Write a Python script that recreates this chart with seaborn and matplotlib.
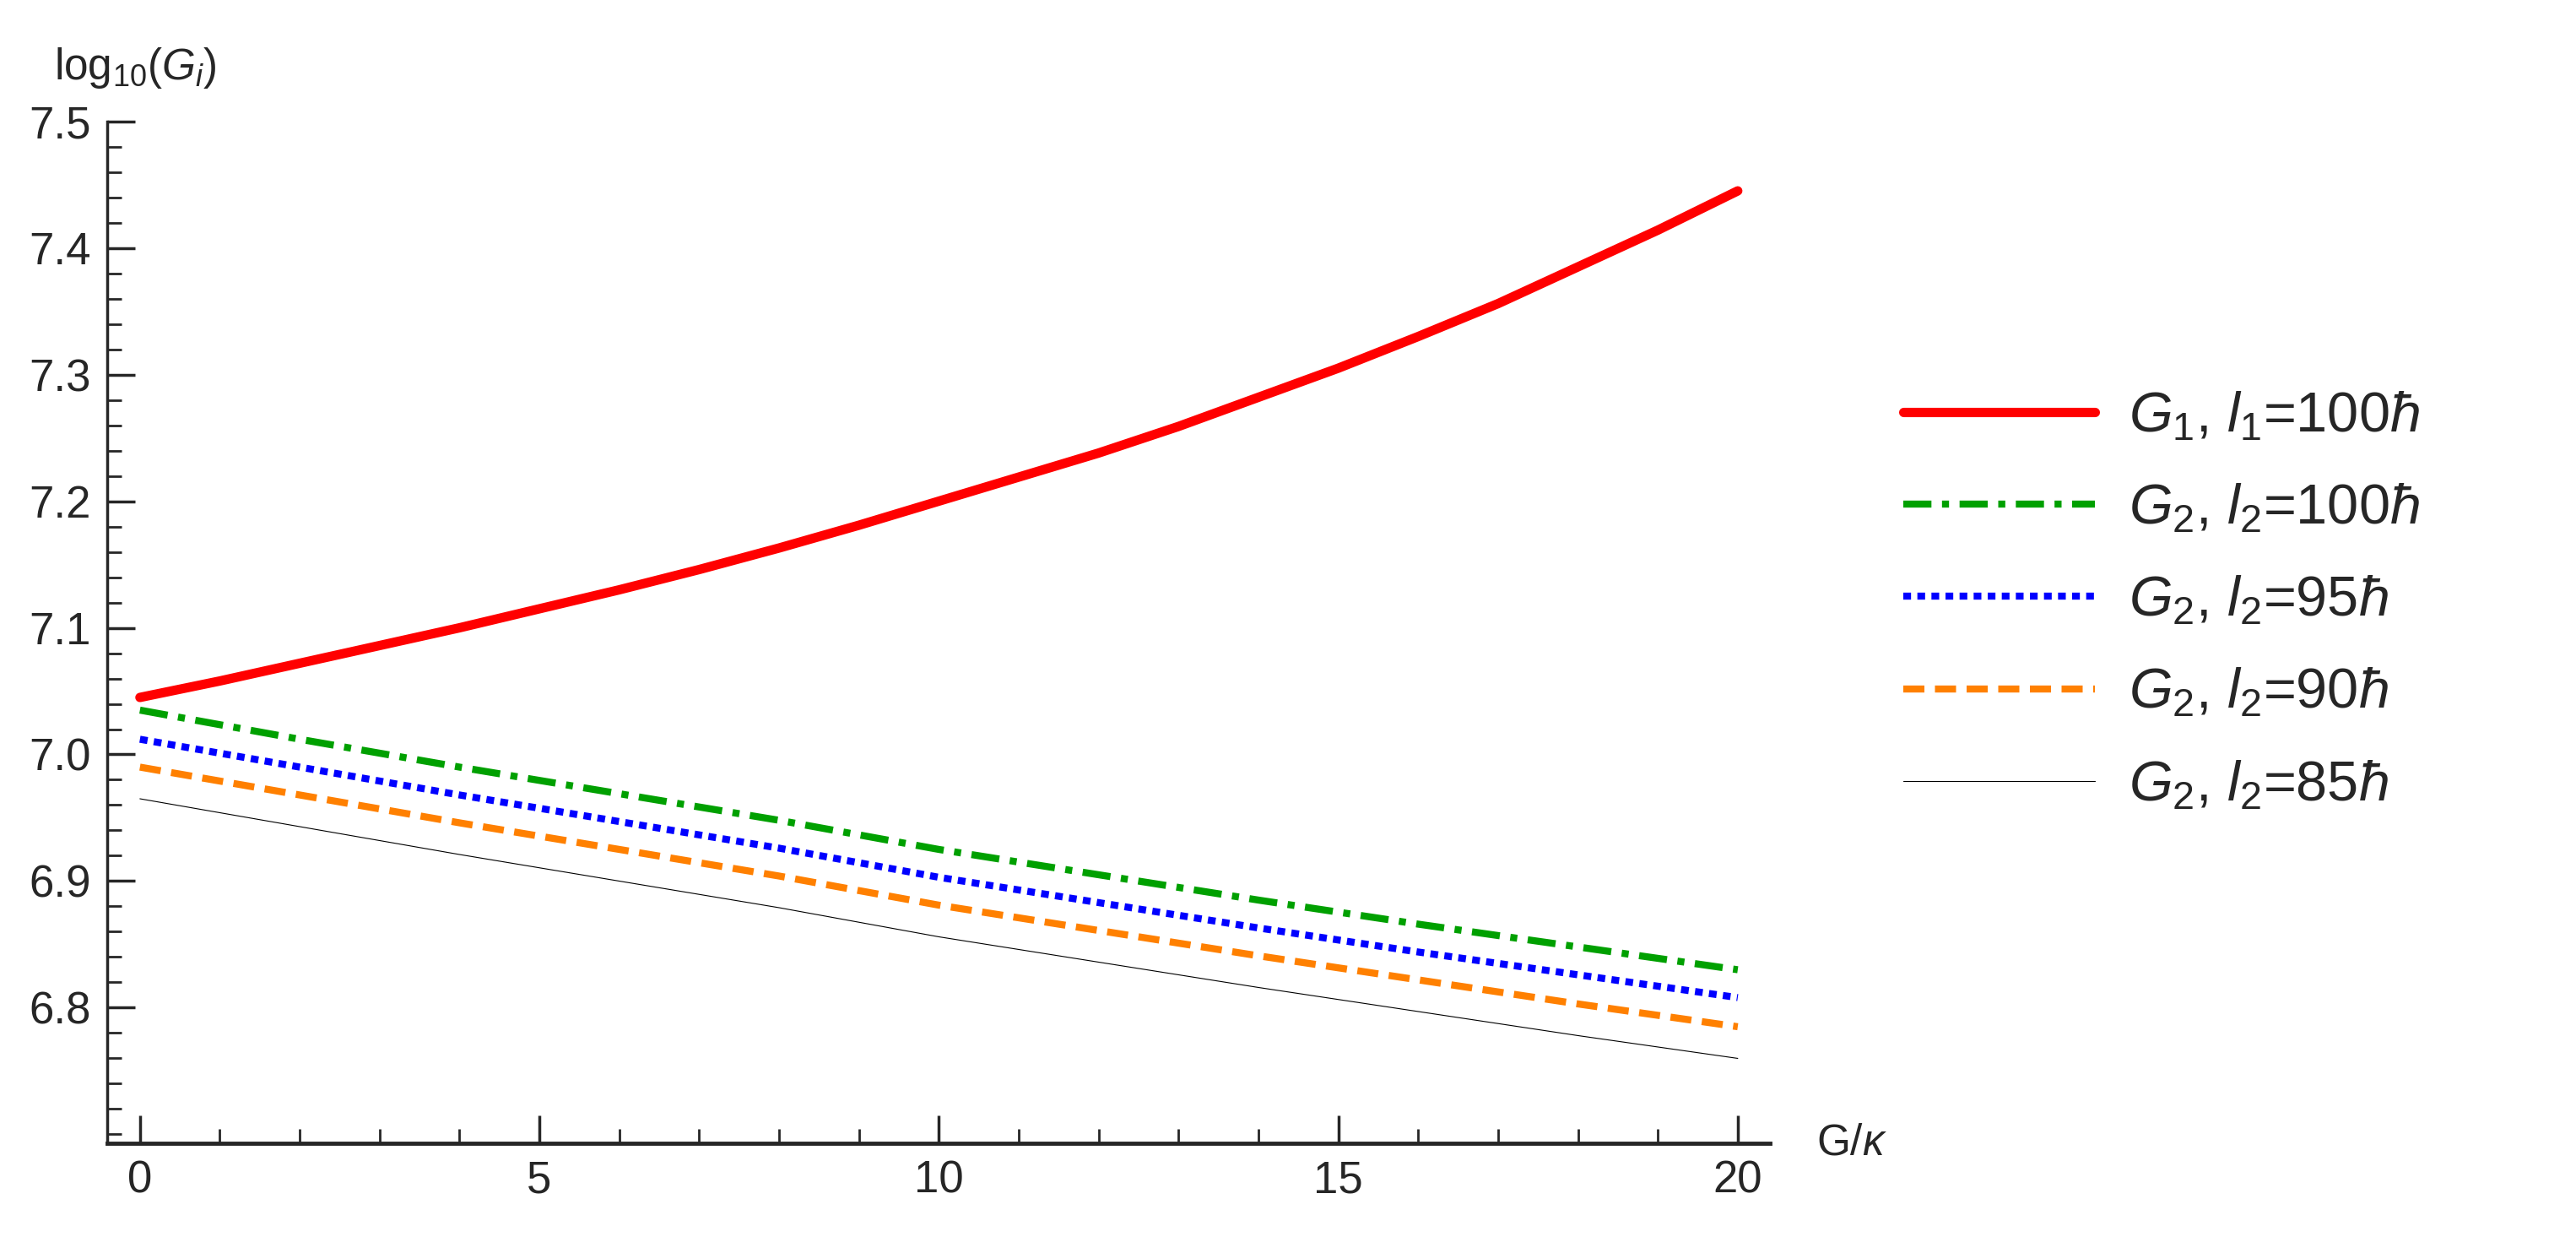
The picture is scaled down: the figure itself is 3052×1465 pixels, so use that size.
import matplotlib
matplotlib.use("Agg")
import matplotlib.pyplot as plt
import seaborn as sns
from matplotlib.ticker import MultipleLocator

x1 = list(range(21))
g1_100 = [7.045, 7.058, 7.072, 7.086, 7.100, 7.115, 7.130, 7.146, 7.163, 7.181, 7.200,
          7.219, 7.238, 7.259, 7.282, 7.305, 7.330, 7.356, 7.385, 7.414, 7.445]
x = [0, 2, 4, 6, 8, 10, 12, 14, 16, 18, 20]
g2_100 = [7.035, 7.012, 6.990, 6.969, 6.948, 6.925, 6.905, 6.885, 6.866, 6.848, 6.830]
g2_95 = [7.012, 6.990, 6.968, 6.947, 6.926, 6.903, 6.883, 6.863, 6.844, 6.826, 6.808]
g2_90 = [6.990, 6.968, 6.946, 6.925, 6.904, 6.881, 6.861, 6.841, 6.822, 6.803, 6.785]
g2_85 = [6.965, 6.943, 6.921, 6.900, 6.879, 6.856, 6.836, 6.816, 6.797, 6.778, 6.760]

labels = [r"$G_1$, $l_1$=100$\hbar$", r"$G_2$, $l_2$=100$\hbar$",
          r"$G_2$, $l_2$=95$\hbar$", r"$G_2$, $l_2$=90$\hbar$", r"$G_2$, $l_2$=85$\hbar$"]

sns.set_style("ticks")
plt.rcParams["font.family"] = ["Liberation Sans", "DejaVu Sans"]
plt.rcParams["mathtext.fontset"] = "custom"
plt.rcParams["mathtext.rm"] = "Liberation Sans"
plt.rcParams["mathtext.it"] = "Liberation Sans:italic"

fig = plt.figure(figsize=(30.52, 14.65), dpi=100)
ax = fig.add_axes([0.0416, 0.0758, 0.6454, 0.8262])

styles = [
    ("#ff0000", "-", 8),
    ("#00a000", (0, (4, 1.5, 1, 1.5)), 6),
    ("#0000ff", (0, (1.1, 0.9)), 6),
    ("#ff8000", (0, (3, 1.5)), 6),
    ("#000000", "-", 0.8),
]
series = [(x1, g1_100), (x, g2_100), (x, g2_95), (x, g2_90), (x, g2_85)]
for (xs, ys), lab, (c, ls, lw) in zip(series, labels, styles):
    sns.lineplot(x=xs, y=ys, ax=ax, color=c, linestyle=ls, linewidth=lw, label=lab)

ax.set_xlim(-0.41, 20.4)
ax.set_ylim(6.693, 7.5)
ax.xaxis.set_major_locator(MultipleLocator(5))
ax.xaxis.set_minor_locator(MultipleLocator(1))
ax.yaxis.set_minor_locator(MultipleLocator(0.02))
ax.set_yticks([7.5, 7.4, 7.3, 7.2, 7.1, 7.0, 6.9, 6.8])
ax.tick_params(which="major", direction="in", length=24, width=2.5, labelsize=38, pad=14)
ax.tick_params(which="minor", direction="in", length=12, width=2)
for s in ["top", "right"]:
    ax.spines[s].set_visible(False)
ax.spines["left"].set_linewidth(2.5)
ax.spines["bottom"].set_linewidth(3.5)

fig.text(0.021, 0.945, r"log$_{10}$($G_i$)", fontsize=37, va="center")
fig.text(0.705, 0.076, r"G/$\kappa$", fontsize=37, va="center")

ax.legend(loc="center left", bbox_to_anchor=(1.05, 0.53), frameon=False,
          fontsize=48, handlelength=3.4, labelspacing=0.7, handletextpad=0.6)

fig.savefig("out.png", dpi=100)
